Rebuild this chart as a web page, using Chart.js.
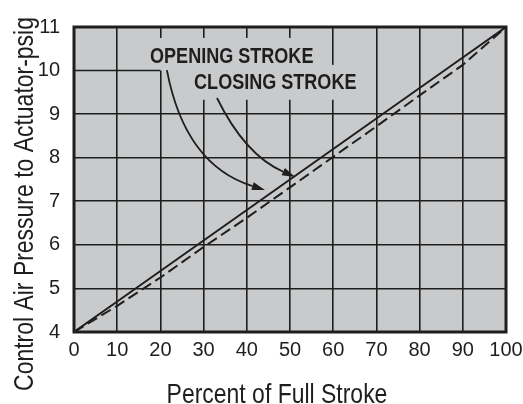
<!DOCTYPE html>
<html>
<head>
<meta charset="utf-8">
<script src="https://cdn.jsdelivr.net/npm/chart.js@4"></script>
<style>
  html, body { margin: 0; padding: 0; background: #fff; }
  #wrap { width: 523px; height: 404px; position: relative; }
</style>
</head>
<body>
<div id="wrap"><canvas id="strokeChart"></canvas></div>
<script>
// données
const strokePct = [0, 10, 20, 30, 40, 50, 60, 70, 80, 90, 100];
const openingPsig = [4, 4.7, 5.4, 6.1, 6.8, 7.5, 8.2, 8.9, 9.6, 10.3, 11];
const closingPsig = [4, 4.6, 5.25, 5.95, 6.62, 7.32, 8.02, 8.72, 9.43, 10.13, 11];
const xTicks = [0, 10, 20, 30, 40, 50, 60, 70, 80, 90, 100];
const yTicks = [4, 5, 6, 7, 8, 9, 10, 11];

// annotations (coordonnées en unités de données)
const labelText = ['OPENING STROKE', 'CLOSING STROKE'];
const labelX = [17.6, 27.8];
const labelY = [10.31, 9.72];
const arrowStart = [[21.5, 10.01], [33.1, 9.37]];
const arrowCtrl = [[25.7, 7.83], [39.6, 8.06]];
const arrowEnd = [[44.2, 7.26], [51.2, 7.56]];
const maskBoxes = [[18.4, 56.9, 10.75, 10.0], [25.7, 66.7, 10.13, 9.33]];

const xTitle = 'Percent of Full Stroke';
const yTitle = 'Control Air Pressure to Actuator-psig';

const INK = '#1e1e1e';
const PLOT_BG = '#c9cacc';
const SANS = "'Liberation Sans', Arial, sans-serif";
const SQUEEZE = 0.82; // imitation d'une police étroite

function narrowText(ctx, txt, x, y, rot) {
    ctx.save();
    ctx.translate(x, y);
    if (rot) ctx.rotate(rot);
    ctx.scale(SQUEEZE, 1);
    ctx.fillText(txt, 0, 0);
    ctx.restore();
}

const overlay = {
    id: 'overlay',
    beforeDraw(chart) {
        const { ctx, chartArea: a } = chart;
        ctx.save();
        ctx.fillStyle = PLOT_BG;
        ctx.fillRect(a.left, a.top, a.right - a.left, a.bottom - a.top);
        ctx.restore();
    },
    beforeDatasetsDraw(chart) {
        const { ctx } = chart;
        const xs = chart.scales.x, ys = chart.scales.y;
        const px = v => xs.getPixelForValue(v);
        const py = v => ys.getPixelForValue(v);
        ctx.save();

        // cache derrière le texte
        ctx.fillStyle = PLOT_BG;
        maskBoxes.forEach(b => {
            ctx.fillRect(px(b[0]), py(b[2]), px(b[1]) - px(b[0]), py(b[3]) - py(b[2]));
        });

        // ligne 10 psig seulement de 0 à 20
        ctx.strokeStyle = INK;
        ctx.lineWidth = 1.6;
        ctx.beginPath();
        ctx.moveTo(px(0), py(10));
        ctx.lineTo(px(20), py(10));
        ctx.stroke();

        // flèches courbes
        ctx.lineWidth = 1.8;
        ctx.fillStyle = INK;
        for (let i = 0; i < arrowStart.length; i++) {
            const s = [px(arrowStart[i][0]), py(arrowStart[i][1])];
            const c = [px(arrowCtrl[i][0]), py(arrowCtrl[i][1])];
            const e = [px(arrowEnd[i][0]), py(arrowEnd[i][1])];
            const ang = Math.atan2(e[1] - c[1], e[0] - c[0]);
            const len = 13, half = 4;
            const bx = e[0] - len * Math.cos(ang), by = e[1] - len * Math.sin(ang);
            ctx.beginPath();
            ctx.moveTo(s[0], s[1]);
            ctx.quadraticCurveTo(c[0], c[1], bx, by);
            ctx.stroke();
            ctx.beginPath();
            ctx.moveTo(e[0], e[1]);
            ctx.lineTo(bx + half * Math.sin(ang), by - half * Math.cos(ang));
            ctx.lineTo(bx - half * Math.sin(ang), by + half * Math.cos(ang));
            ctx.closePath();
            ctx.fill();
        }

        // textes
        ctx.font = 'bold 22px ' + SANS;
        ctx.textAlign = 'left';
        ctx.textBaseline = 'middle';
        labelText.forEach((t, i) => narrowText(ctx, t, px(labelX[i]), py(labelY[i])));
        ctx.restore();
    },
    afterDatasetsDraw(chart) {
        const { ctx, chartArea: a } = chart;
        ctx.save();
        ctx.strokeStyle = INK;
        ctx.lineWidth = 3;
        ctx.strokeRect(a.left, a.top, a.right - a.left, a.bottom - a.top);
        ctx.restore();
    },
    afterDraw(chart) {
        const { ctx } = chart;
        ctx.save();
        ctx.fillStyle = INK;
        ctx.font = '28px ' + SANS;
        ctx.textAlign = 'center';
        ctx.textBaseline = 'alphabetic';
        narrowText(ctx, xTitle, 277, 403);
        narrowText(ctx, yTitle, 33, 204, -Math.PI / 2);
        ctx.restore();
    }
};

new Chart(document.getElementById('strokeChart'), {
    type: 'line',
    data: {
        datasets: [
            {
                label: 'Opening stroke',
                data: strokePct.map((x, i) => ({ x: x, y: openingPsig[i] })),
                borderColor: INK, borderWidth: 2, pointRadius: 0, tension: 0
            },
            {
                label: 'Closing stroke',
                data: strokePct.map((x, i) => ({ x: x, y: closingPsig[i] })),
                borderColor: INK, borderWidth: 2, borderDash: [11, 5], pointRadius: 0, tension: 0
            }
        ]
    },
    options: {
        responsive: true,
        maintainAspectRatio: false,
        animation: false,
        layout: { padding: { top: 27, right: 17, left: 0, bottom: 0 } },
        plugins: { legend: { display: false }, tooltip: { enabled: false } },
        scales: {
            x: {
                type: 'linear', min: 0, max: 100,
                afterBuildTicks: s => { s.ticks = xTicks.map(v => ({ value: v })); },
                afterFit: s => { s.height = 72; s.paddingLeft = 0; s.paddingRight = 0; },
                grid: { color: INK, lineWidth: 1.6, drawTicks: false },
                border: { display: false },
                ticks: { color: INK, padding: 6, maxRotation: 0, font: { family: SANS, size: 20 } }
            },
            y: {
                type: 'linear', min: 4, max: 11,
                afterBuildTicks: s => { s.ticks = yTicks.map(v => ({ value: v })); },
                afterFit: s => { s.width = 74; s.paddingTop = 0; s.paddingBottom = 0; },
                grid: { color: c => (c.tick && c.tick.value === 10) ? 'rgba(0,0,0,0)' : INK, lineWidth: 1.6, drawTicks: false },
                border: { display: false },
                ticks: { color: INK, padding: 14, font: { family: SANS, size: 20 } }
            }
        }
    },
    plugins: [overlay]
});
</script>
</body>
</html>
